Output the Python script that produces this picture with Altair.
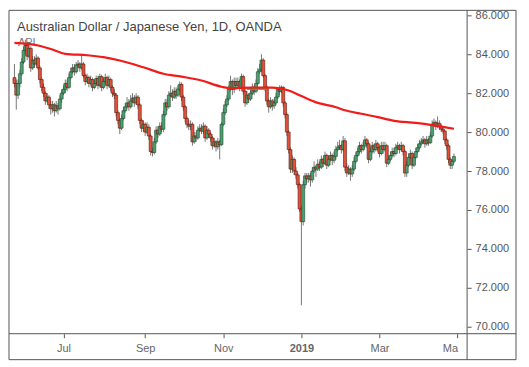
import altair as alt
import pandas as pd

title_text = "Australian Dollar / Japanese Yen, 1D, OANDA"
sub_text = "API"

opens = [
82.8, 82.5, 81.9, 82.5, 83.0, 83.6, 84.2, 84.45, 83.9, 84.3,
83.3, 83.7, 83.5, 83.8, 83.3, 82.7, 82.3, 82.0, 81.6, 81.8,
81.4, 81.2, 81.4, 81.1, 81.35, 81.2, 81.7, 82.0, 82.2, 82.5,
82.3, 82.8, 83.1, 83.3, 83.1, 83.45, 83.5, 83.3, 83.5, 82.9,
82.6, 82.8, 82.5, 82.7, 82.3, 82.5, 82.75, 82.4, 82.85, 82.3,
82.6, 82.8, 82.4, 82.7, 82.3, 82.0, 81.9, 81.0, 80.6, 80.2,
80.7, 81.1, 81.3, 81.5, 81.3, 81.6, 81.75, 81.5, 81.8, 81.4,
80.6, 80.2, 80.4, 80.0, 80.25, 79.8, 79.0, 78.95, 79.5, 80.1,
79.9, 80.3, 80.15, 80.9, 81.5, 81.3, 81.9, 82.0, 81.8, 82.1,
81.9, 82.2, 82.45, 81.8, 81.3, 80.7, 80.4, 80.3, 80.4, 79.5,
79.8, 79.7, 80.1, 80.2, 80.05, 80.3, 79.7, 80.1, 79.9, 79.7,
79.3, 79.5, 79.25, 79.5, 79.35, 80.4, 81.0, 81.4, 81.7, 82.2,
82.6, 82.2, 82.6, 82.4, 82.6, 82.3, 82.85, 82.1, 81.5, 81.9,
81.7, 82.0, 82.3, 82.1, 82.5, 83.1, 83.2, 83.7, 82.9, 82.3,
81.6, 81.3, 81.6, 81.35, 81.5, 81.8, 82.2, 82.1, 82.3, 81.5,
80.9, 80.0, 79.1, 78.1, 78.6, 78.0, 77.8, 77.3, 76.05, 75.4,
77.3, 77.75, 77.6, 77.75, 77.55, 78.0, 78.2, 78.1, 78.35, 78.2,
78.6, 78.4, 78.8, 78.3, 78.6, 78.8, 78.55, 78.75, 79.1, 79.2,
79.3, 79.1, 79.55, 78.2, 77.9, 78.1, 77.85, 78.1, 78.5, 78.8,
79.0, 79.3, 79.1, 79.3, 79.6, 79.4, 78.6, 79.0, 79.3, 79.1,
79.4, 79.2, 78.9, 79.3, 79.1, 79.3, 78.4, 78.6, 78.8, 79.0,
78.9, 79.2, 79.3, 79.1, 79.3, 79.0, 77.9, 78.3, 78.7, 78.9,
78.3, 78.7, 79.0, 79.2, 79.4, 79.5, 79.6, 79.4, 79.6, 79.45,
79.8, 80.4, 80.5, 80.3, 80.45, 80.3, 80.15, 80.05, 79.6, 79.3,
78.6, 78.3, 78.5,
]

closes = [
82.5, 81.9, 82.5, 83.0, 83.6, 84.2, 84.45, 83.9, 84.3, 83.3,
83.7, 83.5, 83.8, 83.3, 82.7, 82.3, 82.0, 81.6, 81.8, 81.4,
81.2, 81.4, 81.1, 81.35, 81.2, 81.7, 82.0, 82.2, 82.5, 82.3,
82.8, 83.1, 83.3, 83.1, 83.45, 83.5, 83.3, 83.5, 82.9, 82.6,
82.8, 82.5, 82.7, 82.3, 82.5, 82.75, 82.4, 82.85, 82.3, 82.6,
82.8, 82.4, 82.7, 82.3, 82.0, 81.9, 81.0, 80.6, 80.2, 80.7,
81.1, 81.3, 81.5, 81.3, 81.6, 81.75, 81.5, 81.8, 81.4, 80.6,
80.2, 80.4, 80.0, 80.25, 79.8, 79.0, 78.95, 79.5, 80.1, 79.9,
80.3, 80.15, 80.9, 81.5, 81.3, 81.9, 82.0, 81.8, 82.1, 81.9,
82.2, 82.45, 81.8, 81.3, 80.7, 80.4, 80.3, 80.4, 79.5, 79.8,
79.7, 80.1, 80.2, 80.05, 80.3, 79.7, 80.1, 79.9, 79.7, 79.3,
79.5, 79.25, 79.5, 79.35, 80.4, 81.0, 81.4, 81.7, 82.2, 82.6,
82.2, 82.6, 82.4, 82.6, 82.3, 82.85, 82.1, 81.5, 81.9, 81.7,
82.0, 82.3, 82.1, 82.5, 83.1, 83.2, 83.7, 82.9, 82.3, 81.6,
81.3, 81.6, 81.35, 81.5, 81.8, 82.2, 82.1, 82.3, 81.5, 80.9,
80.0, 79.1, 78.1, 78.6, 78.0, 77.8, 77.3, 76.05, 75.4, 77.3,
77.75, 77.6, 77.75, 77.55, 78.0, 78.2, 78.1, 78.35, 78.2, 78.6,
78.4, 78.8, 78.3, 78.6, 78.8, 78.55, 78.75, 79.1, 79.2, 79.3,
79.1, 79.55, 78.2, 77.9, 78.1, 77.85, 78.1, 78.5, 78.8, 79.0,
79.3, 79.1, 79.3, 79.6, 79.4, 78.6, 79.0, 79.3, 79.1, 79.4,
79.2, 78.9, 79.3, 79.1, 79.3, 78.4, 78.6, 78.8, 79.0, 78.9,
79.2, 79.3, 79.1, 79.3, 79.0, 77.9, 78.3, 78.7, 78.9, 78.3,
78.7, 79.0, 79.2, 79.4, 79.5, 79.6, 79.4, 79.6, 79.45, 79.8,
80.4, 80.5, 80.3, 80.45, 80.3, 80.15, 80.05, 79.6, 79.3, 78.6,
78.3, 78.5, 78.75,
]

highs = [
83.5, 82.7, 82.7, 83.2, 83.8, 84.4, 84.75, 84.6, 84.5, 84.4,
83.9, 83.9, 84.0, 83.9, 83.4, 82.8, 82.5, 82.1, 82.0, 81.9,
81.6, 81.6, 81.5, 81.6, 81.5, 81.9, 82.2, 82.4, 82.7, 82.7,
83.0, 83.3, 83.5, 83.5, 83.6, 83.7, 83.6, 84.0, 83.6, 83.0,
83.0, 82.9, 82.9, 82.8, 82.7, 82.9, 82.9, 83.0, 82.95, 82.8,
83.0, 82.9, 82.9, 82.8, 82.4, 82.2, 82.0, 81.1, 80.7, 80.9,
81.3, 81.5, 81.8, 81.7, 81.9, 82.0, 81.9, 82.0, 81.9, 81.5,
80.7, 80.6, 80.5, 80.5, 80.4, 79.9, 79.2, 79.7, 80.3, 80.3,
80.5, 80.5, 81.1, 81.7, 81.7, 82.1, 82.4, 82.2, 82.3, 82.3,
82.4, 82.6, 82.55, 81.9, 81.4, 80.8, 80.6, 80.6, 80.5, 80.0,
80.0, 80.3, 80.4, 80.4, 80.5, 80.4, 80.3, 80.2, 80.0, 79.8,
79.7, 79.6, 79.7, 79.6, 80.5, 81.2, 81.6, 81.9, 82.4, 82.9,
82.7, 82.8, 82.8, 82.8, 82.7, 83.0, 82.95, 82.2, 82.1, 82.0,
82.2, 82.5, 82.4, 82.7, 83.3, 83.5, 84.0, 83.8, 83.0, 82.4,
81.7, 81.8, 81.7, 81.7, 82.0, 82.3, 82.4, 82.4, 82.35, 81.6,
81.0, 80.1, 79.2, 78.8, 78.7, 78.2, 77.9, 77.4, 76.2, 77.5,
77.9, 77.9, 77.9, 77.9, 78.2, 78.5, 78.3, 78.6, 78.5, 78.8,
78.7, 79.0, 78.9, 78.8, 79.0, 78.9, 79.0, 79.3, 79.5, 79.6,
79.4, 79.8, 79.7, 78.4, 78.3, 78.2, 78.3, 78.7, 79.0, 79.2,
79.5, 79.4, 79.5, 79.8, 79.7, 79.5, 79.2, 79.5, 79.4, 79.6,
79.5, 79.3, 79.5, 79.5, 79.5, 79.4, 78.8, 79.0, 79.2, 79.2,
79.4, 79.5, 79.4, 79.5, 79.4, 79.1, 78.5, 78.9, 79.1, 79.0,
78.9, 79.2, 79.4, 79.6, 79.7, 79.8, 79.7, 79.8, 79.7, 80.0,
80.6, 80.7, 80.6, 80.8, 80.6, 80.4, 80.3, 80.1, 79.7, 79.4,
78.7, 78.6, 78.9,
]

lows = [
82.3, 81.15, 81.7, 82.3, 82.9, 83.5, 84.0, 83.7, 83.8, 83.1,
83.2, 83.3, 83.4, 83.2, 82.5, 82.1, 81.8, 81.4, 81.5, 81.2,
80.9, 81.0, 80.8, 81.0, 80.9, 81.1, 81.5, 81.9, 82.0, 82.1,
82.2, 82.7, 83.0, 82.9, 83.0, 83.3, 83.1, 83.2, 82.8, 82.4,
82.5, 82.3, 82.4, 82.1, 82.2, 82.4, 82.2, 82.3, 82.1, 82.2,
82.5, 82.2, 82.3, 82.1, 81.8, 81.7, 80.8, 80.4, 79.9, 80.1,
80.6, 81.0, 81.2, 81.1, 81.2, 81.5, 81.3, 81.4, 81.2, 80.4,
80.0, 80.0, 79.8, 79.9, 79.6, 78.8, 78.75, 78.85, 79.4, 79.7,
79.8, 80.0, 80.0, 80.8, 81.1, 81.2, 81.8, 81.6, 81.7, 81.7,
81.8, 82.1, 81.6, 81.1, 80.5, 80.2, 80.1, 80.1, 79.3, 79.4,
79.5, 79.6, 80.0, 79.9, 79.9, 79.5, 79.6, 79.7, 79.5, 79.1,
79.2, 79.0, 79.1, 78.6, 79.3, 80.3, 80.9, 81.3, 81.6, 82.1,
81.9, 82.0, 82.2, 82.3, 82.1, 82.2, 81.9, 81.3, 81.4, 81.5,
81.6, 81.9, 81.9, 82.0, 82.4, 83.0, 83.1, 82.8, 82.1, 81.4,
81.0, 81.2, 81.1, 81.2, 81.4, 81.7, 81.9, 82.0, 81.3, 80.7,
79.8, 78.9, 77.9, 77.9, 77.8, 77.6, 77.1, 75.9, 71.1, 75.2,
77.1, 77.4, 77.4, 77.2, 77.4, 77.9, 77.7, 78.0, 78.0, 78.1,
78.2, 78.3, 78.1, 78.2, 78.5, 78.3, 78.4, 78.6, 79.0, 79.1,
78.9, 79.0, 78.0, 77.7, 77.8, 77.5, 77.7, 78.0, 78.4, 78.7,
78.9, 78.9, 79.0, 79.2, 79.2, 78.4, 78.5, 78.9, 78.9, 79.0,
79.0, 78.7, 78.8, 78.9, 79.0, 78.2, 78.3, 78.5, 78.7, 78.7,
78.8, 79.1, 78.9, 79.0, 78.8, 77.7, 77.7, 78.2, 78.6, 78.1,
78.2, 78.6, 78.9, 79.1, 79.3, 79.4, 79.2, 79.3, 79.3, 79.4,
79.7, 80.3, 80.1, 80.2, 80.1, 80.0, 79.9, 79.4, 79.1, 78.4,
78.1, 78.1, 78.4,
]

# 200-day moving average read at selected bars
ma_index = [0, 13, 20, 28, 40, 49, 58, 71, 82, 92, 103, 114, 119, 131, 142,
            146, 151, 158, 167, 177, 182, 191, 200, 209, 221, 230, 242]
ma_values = [84.58, 84.45, 84.27, 84.02, 83.95, 83.85, 83.68, 83.33, 83.0, 82.85,
             82.65, 82.33, 82.26, 82.28, 82.28, 82.25, 82.14, 81.85, 81.5, 81.28,
             81.12, 80.94, 80.77, 80.58, 80.47, 80.36, 80.17]

green_index = [128, 139]
green_values = [82.22, 82.22]

tick_index = [27, 72, 115, 158, 201, 244]
tick_labels = ["Jul", "Sep", "Nov", "2019", "Mar", "Ma"]
y_ticks = [70, 72, 74, 76, 78, 80, 82, 84, 86]

df = pd.DataFrame({
    "i": list(range(len(closes))),
    "open": opens, "high": highs, "low": lows, "close": closes,
})
df["dir"] = ["up" if c >= o else "down" for o, c in zip(opens, closes)]
ma_df = pd.DataFrame({"i": ma_index, "ma": ma_values})
green_df = pd.DataFrame({"i": green_index, "ma": green_values})

label_expr = "''"
for idx, lab in reversed(list(zip(tick_index, tick_labels))):
    label_expr = f"datum.value == {idx} ? '{lab}' : ({label_expr})"

FONT = "Liberation Sans"
xscale = alt.Scale(domain=[-0.26, 246.5], nice=False, zero=False)
yscale = alt.Scale(domain=[69.64, 86.256], nice=False, zero=False)

xaxis = alt.Axis(values=tick_index, labelExpr=label_expr, title=None, grid=False,
                 domain=False, tickSize=4, tickColor="#555", labelPadding=5,
                 labelFont=FONT, labelFontSize=11, labelColor="#666",
                 labelFlush=False,
                 labelAlign={"expr": "datum.value == 244 ? 'right' : 'center'"},
                 labelFontWeight={"expr": "datum.value == 158 ? 'bold' : 'normal'"})
yaxis = alt.Axis(orient="right", values=y_ticks, format=".3f", title=None, grid=False,
                 domain=False, tickSize=4, tickColor="#555", labelPadding=4,
                 labelFont=FONT, labelFontSize=11, labelColor="#555")

base = alt.Chart(df)

wicks = base.mark_rule(color="#777777", strokeWidth=1).encode(
    x=alt.X("i:Q", scale=xscale, axis=xaxis),
    y=alt.Y("low:Q", scale=yscale, axis=yaxis),
    y2="high:Q",
)

bodies = base.mark_bar(size=3, strokeWidth=0.6).encode(
    x=alt.X("i:Q", scale=xscale),
    y=alt.Y("open:Q", scale=yscale),
    y2="close:Q",
    color=alt.Color("dir:N", scale=alt.Scale(domain=["up", "down"], range=["#4e9f70", "#e2523a"]), legend=None),
    stroke=alt.Stroke("dir:N", scale=alt.Scale(domain=["up", "down"], range=["#1f4a30", "#5b1a0e"]), legend=None),
)

green_line = alt.Chart(green_df).mark_line(color="#3cb04a", strokeWidth=2).encode(
    x=alt.X("i:Q", scale=xscale), y=alt.Y("ma:Q", scale=yscale))

ma_line = alt.Chart(ma_df).mark_line(color="#f21b1b", strokeWidth=2.2, interpolate="monotone").encode(
    x=alt.X("i:Q", scale=xscale), y=alt.Y("ma:Q", scale=yscale))

one = pd.DataFrame({"t": [title_text], "s": [sub_text]})
title = alt.Chart(one).mark_text(align="left", baseline="alphabetic", font=FONT,
                                 fontSize=13, color="#444444").encode(
    x=alt.value(8), y=alt.value(21), text="t:N")
sub = alt.Chart(one).mark_text(align="left", baseline="alphabetic", font=FONT,
                               fontSize=11, color="#777").encode(
    x=alt.value(9), y=alt.value(36), text="s:N")

frame = alt.Chart(one).mark_rect(fillOpacity=0, stroke="#555", strokeWidth=1).encode(
    x=alt.value(0), x2=alt.value(508), y=alt.value(0), y2=alt.value(350))
vrule = alt.Chart(one).mark_rule(color="#555", strokeWidth=1).encode(
    x=alt.value(459), y=alt.value(0), y2=alt.value(350))
hrule = alt.Chart(one).mark_rule(color="#555", strokeWidth=1).encode(
    x=alt.value(0), x2=alt.value(508), y=alt.value(324))

chart = alt.layer(sub, wicks, bodies, green_line, ma_line, title, frame, vrule, hrule).properties(
    width=459, height=324, padding={"left": 0, "top": 0, "right": 4, "bottom": 4},
    background="white",
).configure_view(stroke=None)

chart.save("out.html", embed_options={"renderer": "svg", "actions": False})
